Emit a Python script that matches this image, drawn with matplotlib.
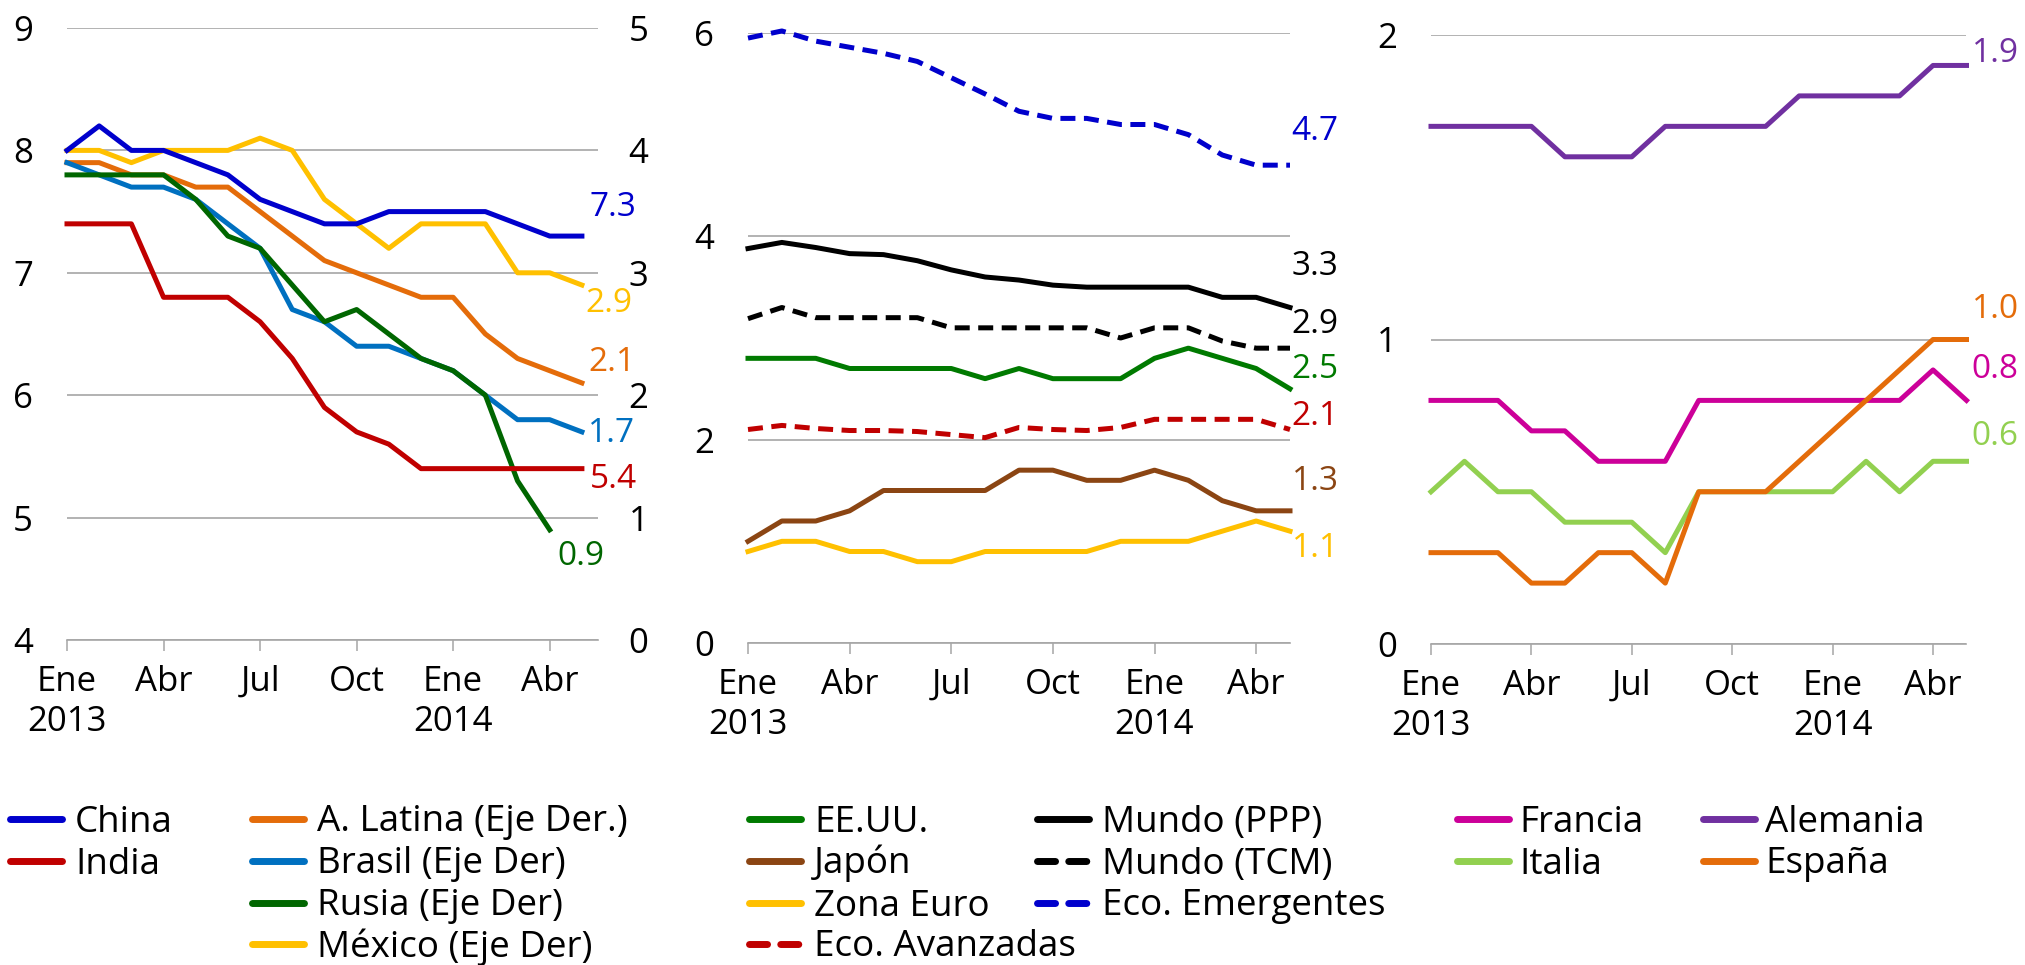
import matplotlib.pyplot as plt
from matplotlib.lines import Line2D
import numpy as np

plt.rcParams['font.family'] = ['Open Sans', 'DejaVu Sans']

# meses: Ene 2013 .. May 2014
meses = np.arange(17)
tick_pos = [0, 3, 6, 9, 12, 15]
tick_labels = ['Ene\n2013', 'Abr', 'Jul', 'Oct', 'Ene\n2014', 'Abr']

# panel 1 - eje izquierdo (4-9)
china = [8.0, 8.2, 8.0, 8.0, 7.9, 7.8, 7.6, 7.5, 7.4, 7.4, 7.5, 7.5, 7.5, 7.5, 7.4, 7.3, 7.3]
india = [7.4, 7.4, 7.4, 6.8, 6.8, 6.8, 6.6, 6.3, 5.9, 5.7, 5.6, 5.4, 5.4, 5.4, 5.4, 5.4, 5.4]
# panel 1 - eje derecho (0-5)
a_latina = [3.9, 3.9, 3.8, 3.8, 3.7, 3.7, 3.5, 3.3, 3.1, 3.0, 2.9, 2.8, 2.8, 2.5, 2.3, 2.2, 2.1]
brasil = [3.9, 3.8, 3.7, 3.7, 3.6, 3.4, 3.2, 2.7, 2.6, 2.4, 2.4, 2.3, 2.2, 2.0, 1.8, 1.8, 1.7]
rusia = [3.8, 3.8, 3.8, 3.8, 3.6, 3.3, 3.2, 2.9, 2.6, 2.7, 2.5, 2.3, 2.2, 2.0, 1.3, 0.9]
mexico = [4.0, 4.0, 3.9, 4.0, 4.0, 4.0, 4.1, 4.0, 3.6, 3.4, 3.2, 3.4, 3.4, 3.4, 3.0, 3.0, 2.9]

# panel 2
eeuu = [2.8, 2.8, 2.8, 2.7, 2.7, 2.7, 2.7, 2.6, 2.7, 2.6, 2.6, 2.6, 2.8, 2.9, 2.8, 2.7, 2.5]
japon = [1.0, 1.2, 1.2, 1.3, 1.5, 1.5, 1.5, 1.5, 1.7, 1.7, 1.6, 1.6, 1.7, 1.6, 1.4, 1.3, 1.3]
zona_euro = [0.9, 1.0, 1.0, 0.9, 0.9, 0.8, 0.8, 0.9, 0.9, 0.9, 0.9, 1.0, 1.0, 1.0, 1.1, 1.2, 1.1]
eco_avanzadas = [2.10, 2.14, 2.11, 2.09, 2.09, 2.08, 2.05, 2.02, 2.12, 2.10, 2.09, 2.12, 2.20, 2.20, 2.20, 2.20, 2.10]
mundo_ppp = [3.88, 3.94, 3.89, 3.83, 3.82, 3.76, 3.67, 3.60, 3.57, 3.52, 3.50, 3.50, 3.50, 3.50, 3.40, 3.40, 3.30]
mundo_tcm = [3.19, 3.30, 3.20, 3.20, 3.20, 3.20, 3.10, 3.10, 3.10, 3.10, 3.10, 3.00, 3.10, 3.10, 2.97, 2.90, 2.90]
eco_emergentes = [5.95, 6.02, 5.92, 5.86, 5.80, 5.72, 5.56, 5.40, 5.23, 5.16, 5.16, 5.10, 5.10, 5.00, 4.80, 4.70, 4.70]

# panel 3
francia = [0.8, 0.8, 0.8, 0.7, 0.7, 0.6, 0.6, 0.6, 0.8, 0.8, 0.8, 0.8, 0.8, 0.8, 0.8, 0.9, 0.8]
italia = [0.5, 0.6, 0.5, 0.5, 0.4, 0.4, 0.4, 0.3, 0.5, 0.5, 0.5, 0.5, 0.5, 0.6, 0.5, 0.6, 0.6]
alemania = [1.7, 1.7, 1.7, 1.7, 1.6, 1.6, 1.6, 1.7, 1.7, 1.7, 1.7, 1.8, 1.8, 1.8, 1.8, 1.9, 1.9]
espana = [0.3, 0.3, 0.3, 0.2, 0.2, 0.3, 0.3, 0.2, 0.5, 0.5, 0.5, 0.6, 0.7, 0.8, 0.9, 1.0, 1.0]

gris = '#a6a6a6'
lw = 3.6
dash = (0, (3, 1.7))
fs_tick = 25
fs_val = 24
fs_leg = 26.5

W, H = 2025, 965
fig = plt.figure(figsize=(W / 100, H / 100), dpi=100)


def caja(x0, y_top, ancho, y_bot):
    return [x0 / W, 1 - y_bot / H, ancho / W, (y_bot - y_top) / H]


def estilo(ax, ylim, yticks, xmax):
    ax.set_xlim(0, xmax)
    ax.set_ylim(*ylim)
    ax.set_yticks(yticks)
    ax.set_xticks(tick_pos)
    ax.set_xticklabels(tick_labels, linespacing=1.22)
    for s in ['top', 'right', 'left']:
        ax.spines[s].set_visible(False)
    ax.spines['bottom'].set_color(gris)
    ax.spines['bottom'].set_linewidth(1.2)
    ax.grid(axis='y', color=gris, lw=1.2)
    ax.set_axisbelow(True)
    ax.tick_params(axis='x', length=8, width=1.1, color=gris, pad=10, labelsize=fs_tick)
    ax.tick_params(axis='y', length=0, pad=24.5, labelsize=fs_tick)


def etiqueta(ax, x, y, serie, color):
    ax.text(x, y, f'{serie[-1]:.1f}', color=color, fontsize=fs_val, va='center', ha='left', clip_on=False)


# ---- panel 1
ax1 = fig.add_axes(caja(67, 28, 531, 640))
estilo(ax1, (4, 9), range(4, 10), 16.5)
ax1b = ax1.twinx()
ax1b.set_ylim(0, 5)
ax1b.set_yticks(range(6))
for s in ax1b.spines.values():
    s.set_visible(False)
ax1b.tick_params(axis='y', length=0, pad=22, labelsize=fs_tick)

p1_izq = [('China', china, '#0000cc'), ('India', india, '#c00000')]
p1_der = [('A. Latina (Eje Der.)', a_latina, '#e46c0a'), ('Brasil (Eje Der)', brasil, '#0070c0'),
          ('Rusia (Eje Der)', rusia, '#006600'), ('México (Eje Der)', mexico, '#ffc000')]
for nombre, serie, c in p1_der:
    ax1b.plot(meses[:len(serie)], serie, color=c, lw=lw, clip_on=False)
for nombre, serie, c in p1_izq:
    ax1b.plot(meses[:len(serie)], np.array(serie) - 4, color=c, lw=lw, clip_on=False)

etiqueta(ax1, 16.24, 7.53, china, '#0000cc')
etiqueta(ax1, 16.24, 5.31, india, '#c00000')
etiqueta(ax1b, 16.1, 2.75, mexico, '#ffc000')
etiqueta(ax1b, 16.2, 2.27, a_latina, '#e46c0a')
etiqueta(ax1b, 16.2, 1.69, brasil, '#0070c0')
etiqueta(ax1b, 15.25, 0.68, rusia, '#006600')

# ---- panel 2
ax2 = fig.add_axes(caja(748, 33, 542, 643))
estilo(ax2, (0, 6), [0, 2, 4, 6], 16)
p2 = [('EE.UU.', eeuu, '#007a00', '-'), ('Japón', japon, '#8b4513', '-'),
      ('Zona Euro', zona_euro, '#ffc000', '-'), ('Eco. Avanzadas', eco_avanzadas, '#c00000', dash),
      ('Mundo (PPP)', mundo_ppp, '#000000', '-'), ('Mundo (TCM)', mundo_tcm, '#000000', dash),
      ('Eco. Emergentes', eco_emergentes, '#0000cc', dash)]
for nombre, serie, c, ls in p2:
    ax2.plot(meses, serie, color=c, lw=lw, ls=ls, clip_on=False)

etiqueta(ax2, 16.05, 5.03, eco_emergentes, '#0000cc')
etiqueta(ax2, 16.05, 3.70, mundo_ppp, '#000000')
etiqueta(ax2, 16.05, 3.13, mundo_tcm, '#000000')
etiqueta(ax2, 16.05, 2.69, eeuu, '#007a00')
etiqueta(ax2, 16.05, 2.23, eco_avanzadas, '#c00000')
etiqueta(ax2, 16.05, 1.59, japon, '#8b4513')
etiqueta(ax2, 16.05, 0.93, zona_euro, '#ffc000')

# ---- panel 3
ax3 = fig.add_axes(caja(1431, 35, 535.5, 644))
estilo(ax3, (0, 2), [0, 1, 2], 16)
p3 = [('Francia', francia, '#cc0099'), ('Italia', italia, '#92d050'),
      ('Alemania', alemania, '#7030a0'), ('España', espana, '#e46c0a')]
for nombre, serie, c in p3:
    ax3.plot(meses, serie, color=c, lw=lw, clip_on=False)

etiqueta(ax3, 16.16, 1.94, alemania, '#7030a0')
etiqueta(ax3, 16.16, 1.10, espana, '#e46c0a')
etiqueta(ax3, 16.16, 0.90, francia, '#cc0099')
etiqueta(ax3, 16.16, 0.68, italia, '#92d050')

# ---- leyenda (columnas como en el original)
columnas = [
    (10, 13, [(n, c, '-') for n, _, c in p1_izq]),
    (252, 13, [(n, c, '-') for n, _, c in p1_der]),
    (749, 13, [(n, c, ls) for n, _, c, ls in p2[:4]]),
    (1037, 13, [(n, c, ls) for n, _, c, ls in p2[4:]]),
    (1457, 10, [(n, c, '-') for n, _, c in p3[:2]]),
    (1703, 10, [(n, c, '-') for n, _, c in p3[2:]]),
]
filas = [819, 861, 903, 944]
largo = 52
for x0, gap, items in columnas:
    for (nombre, c, ls), y in zip(items, filas):
        est = (0, (2.6, 1.9)) if ls != '-' else '-'
        fig.add_artist(Line2D([x0 / W, (x0 + largo) / W], [1 - y / H, 1 - y / H], color=c, lw=5,
                              ls=est, solid_capstyle='round', dash_capstyle='round',
                              transform=fig.transFigure))
        fig.text((x0 + largo + gap) / W, 1 - (y + 12.5) / H, nombre, fontsize=fs_leg, va='baseline', ha='left')

fig.savefig('out.png', dpi=100)
